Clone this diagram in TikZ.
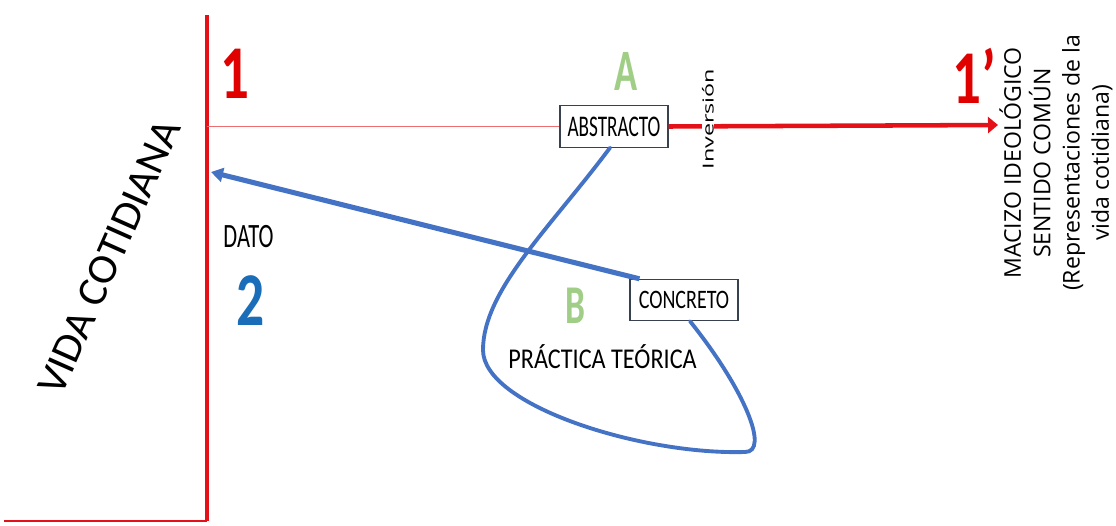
\documentclass[tikz,border=0pt]{standalone}
\usepackage{graphicx}
\usepackage{fontspec}
\setmainfont{Carlito}
\newfontfamily\osans{Open Sans}
\usetikzlibrary{arrows.meta}
\definecolor{vred}{RGB}{228,18,24}
\definecolor{lred}{RGB}{236,110,112}
\definecolor{tred}{RGB}{225,0,0}
\definecolor{vblue}{RGB}{68,114,196}
\definecolor{dblue}{RGB}{26,110,185}
\definecolor{vgreen}{RGB}{160,206,135}
\definecolor{boxline}{RGB}{55,65,80}
\newcommand{\cnd}[2]{\scalebox{#1}[1]{#2}}
\tikzset{
  redaxis/.style={draw=vred, line width=2.4pt},
  redthin/.style={draw=lred, line width=0.9pt},
  redarrow/.style={draw=vred, line width=3.4pt, -{Triangle[length=7.5pt,width=12pt]}},
  bluearrow/.style={draw=vblue, line width=3.8pt, -{Triangle[length=9pt,width=10.5pt]}},
  bluecurve/.style={draw=vblue, line width=2.9pt, line cap=round},
  termbox/.style={draw=boxline, line width=0.8pt, fill=white, inner sep=0pt,
    minimum width=81pt, minimum height=31pt},
  lbl/.style={inner sep=0pt},
}
\begin{document}
\begin{tikzpicture}[x=0.75pt,y=-0.75pt]
\useasboundingbox (0,0) rectangle (1116,525);
% axis lines
\coordinate (vtop) at (207,15);
\coordinate (vbot) at (207,521);
\coordinate (hleft) at (4,521);
\draw[redaxis] (vtop) -- (vbot);
\draw[draw=vred, line width=1.7pt] (hleft) -- (vbot);
% boxes
\node[termbox] (abs) at (614,126.5) {\fontsize{22.5}{26}\selectfont\cnd{0.64}{ABSTRACTO}};
\node[termbox] (con) at (684,300) {\fontsize{20}{24}\selectfont\cnd{0.75}{CONCRETO}};
% red lines
\coordinate (h1) at (207,126.5);
\coordinate (mac) at (998,125);
\draw[redthin] (h1) -- (abs.west);
\draw[redarrow] (abs.east) -- (mac);
\node[lbl, fill=white, inner xsep=2pt, rotate=90] (inv) at (708,119) {\osans\fontsize{17.5}{20}\selectfont\scalebox{1}[0.65]{Inversión}};
% blue arrow to vida cotidiana
\coordinate (dat) at (211,172);
\draw[bluearrow] ([xshift=7.5pt]con.north west) -- (dat);
% blue curve: practica teorica
\draw[bluecurve] ([xshift=-3pt]abs.south) .. controls (551,227) and (483,290) .. (483,350)
  .. controls (483,405) and (640,455) .. (745,452)
  .. controls (770,452) and (745,390) .. ([xshift=4.5pt]con.south);
% labels
\node[lbl, anchor=base, text=tred] (n1) at (235,98) {\fontsize{57}{60}\selectfont\bfseries\cnd{0.75}{1}};
\node[lbl, anchor=base west, text=tred] (n1p) at (952,103) {\fontsize{57}{60}\selectfont\bfseries\cnd{0.75}{1’}};
\node[lbl, anchor=base, text=dblue] (n2) at (251,325) {\fontsize{57}{60}\selectfont\bfseries\cnd{0.73}{2}};
\node[lbl, anchor=base, text=vgreen] (la) at (626,90) {\fontsize{44}{48}\selectfont\bfseries\cnd{0.65}{A}};
\node[lbl, anchor=base, text=vgreen] (lb) at (575,323) {\fontsize{41}{44}\selectfont\bfseries\cnd{0.65}{B}};
\node[lbl, anchor=base] (dato) at (248.5,247) {\fontsize{25.6}{30}\selectfont\cnd{0.66}{DATO}};
\node[lbl, anchor=base] (prac) at (602.5,368) {\fontsize{21.5}{26}\selectfont\cnd{0.845}{PRÁCTICA TEÓRICA}};
\node[lbl, rotate=66] (vida) at (109,257) {\fontsize{33}{40}\selectfont\scalebox{0.99}[0.95]{VIDA COTIDIANA}};
\node[lbl, rotate=90, align=center, font=\osans\fontsize{17.3}{22}\selectfont] (maciz) at (1056,163) {MACIZO IDEOLÓGICO\\SENTIDO COMÚN\\(Representaciones de la\\vida cotidiana)};
\end{tikzpicture}
\end{document}
